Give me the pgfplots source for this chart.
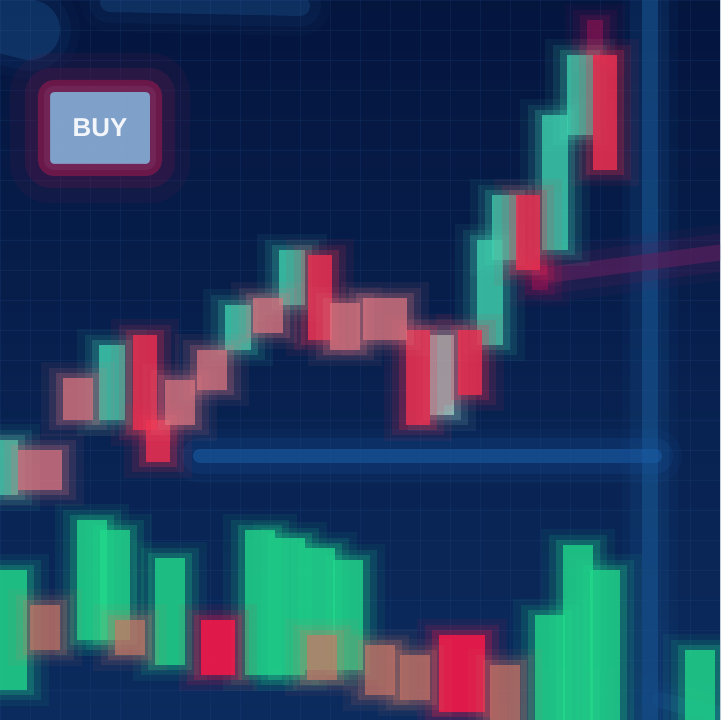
\documentclass[border=0pt]{standalone}
\usepackage{pgfplots}
\pgfplotsset{compat=1.18}
\usepackage{pgfplotstable}
\usepackage{fontspec}
\setmainfont{Liberation Sans}

\definecolor{bgtop}{HTML}{04153E}
\definecolor{bgbot}{HTML}{0B2B5E}
\definecolor{gridc}{HTML}{2A5596}
\definecolor{teal}{HTML}{3FD0AE}
\definecolor{paleteal}{HTML}{A6DCCF}
\definecolor{cred}{HTML}{EE2F50}
\definecolor{salmon}{HTML}{DC7680}
\definecolor{magen}{HTML}{8E1252}
\definecolor{vgreen}{HTML}{22D98C}
\definecolor{vred}{HTML}{FF1748}
\definecolor{vsalmon}{HTML}{CC7766}
\definecolor{hblue}{HTML}{1A5CA6}
\definecolor{vblue}{HTML}{17538E}
\definecolor{purp}{HTML}{5E1F5E}
\definecolor{glow}{HTML}{2466A6}
\definecolor{boxc}{HTML}{70184A}
\definecolor{boxin}{HTML}{8DB0D8}

% candles, pixel x, centre y and half height (y measured from the bottom)
\pgfplotstableread{
x y e
5 252.5 27.5
112 337.5 37.5
238 392.5 22.5
292 442.5 27.5
490 427.5 52.5
505 492.5 32.5
555 537.5 67.5
580 625 40
}\greencandles
\pgfplotstableread{
x y e
442 345 40
}\palecandles
\pgfplotstableread{
x y e
145 337.5 47.5
158 279 21
320 422.5 42.5
418 342.5 47.5
470 357.5 32.5
528 487.5 37.5
605 607.5 57.5
}\redcandles
\pgfplotstableread{
x y e
78 321 21
180 317.5 22.5
212 350 20
268 404.5 17.5
345 393.5 23.5
}\salmoncandles
\pgfplotstableread{
x y e
40 250 20
385 401 21
}\widesalmon
\pgfplotstableread{
x y e
540 442.5 12.5
595 680 20
}\wicks

% volume bars
\pgfplotstableread{
x y e
12 90 60
92 140 60
115 135 55
170 108.5 53.5
260 117.5 72.5
290 113.5 68.5
320 111 61
348 105 55
550 52.5 52.5
578 87.5 87.5
605 75 75
700 35 35
}\volgreen
\pgfplotstableread{
x y e
218 72.5 27.5
}\volred
\pgfplotstableread{
x y e
462 46.5 38.5
}\volredwide
\pgfplotstableread{
x y e
45 92.5 22.5
130 82.5 17.5
322 62.5 22.5
380 50 25
415 42.5 22.5
505 27.5 27.5
}\volsalmon

% one layer of bars drawn as thick error bars
\newcommand{\barlayer}[5]{% table, colour, width, opacity, extra half height
  \addplot[draw=none, mark=none, forget plot, error bars/.cd, y dir=both, y explicit, error mark=none,
    error bar style={draw=#2, line width=#3, opacity=#4}]
    table[x=x, y=y, y error expr=\thisrow{e}+#5] {#1};
}
% soft bars: glow layers and a core
\newcommand{\softbars}[4]{% table, colour, core width (bp, number), core opacity
  \barlayer{#1}{#2}{#3bp+44bp}{0.07}{16}
  \barlayer{#1}{#2}{#3bp+28bp}{0.12}{10}
  \barlayer{#1}{#2}{#3bp+14bp}{0.22}{5}
  \barlayer{#1}{#2}{#3bp}{#4}{0}
}
\newcommand{\softline}[4]{% colour, width (number), opacity, coordinates
  \addplot[forget plot, draw=#1, line width=#2bp+40bp, opacity=0.08*#3, line cap=round] coordinates {#4};
  \addplot[forget plot, draw=#1, line width=#2bp+22bp, opacity=0.16*#3, line cap=round] coordinates {#4};
  \addplot[forget plot, draw=#1, line width=#2bp, opacity=0.5*#3, line cap=round] coordinates {#4};
}

\begin{document}
\begin{tikzpicture}
\begin{axis}[
  width=720bp, height=720bp, scale only axis,
  xmin=0, xmax=720, ymin=0, ymax=720,
  axis line style={draw=none}, tick style={draw=none},
  xtick distance=30, ytick distance=30,
  xticklabels={}, yticklabels={},
  grid=major, grid style={draw=gridc, line width=0.8bp, opacity=0.16},
  axis background/.style={top color=bgtop, bottom color=bgbot},
]
% background glows
\softline{glow}{60}{0.55}{(-10,700) (30,690)}
\softline{glow}{20}{0.5}{(110,718) (300,714)}
\softline{glow}{16}{0.4}{(660,20) (720,5)}

% guide lines
\softline{vblue}{16}{1.2}{(650,-20) (650,740)}
\softline{hblue}{14}{1.1}{(200,264) (655,264)}
\softline{purp}{16}{1.2}{(548,445) (740,470)}

% volume
\softbars{\volgreen}{vgreen}{30}{0.75}
\softbars{\volred}{vred}{34}{0.8}
\softbars{\volredwide}{vred}{46}{0.8}
\softbars{\volsalmon}{vsalmon}{30}{0.65}

% candles
\softbars{\wicks}{magen}{16}{0.6}
\softbars{\greencandles}{teal}{26}{0.75}
\softbars{\palecandles}{paleteal}{24}{0.7}
\softbars{\redcandles}{cred}{24}{0.8}
\softbars{\salmoncandles}{salmon}{30}{0.7}
\softbars{\widesalmon}{salmon}{44}{0.7}

% label box
\node[draw=boxc, line width=40bp, rounded corners=20bp, opacity=0.12, minimum width=140bp, minimum height=110bp] at (axis cs:100,592) {};
\node[draw=boxc, line width=24bp, rounded corners=14bp, opacity=0.25, minimum width=126bp, minimum height=96bp] at (axis cs:100,592) {};
\node[draw=boxc, fill=boxin, line width=12bp, rounded corners=10bp, minimum width=112bp, minimum height=84bp,
  text=white, font=\bfseries\fontsize{26}{30}\selectfont, opacity=0.9] at (axis cs:100,592) {BUY};
\end{axis}
\pgfresetboundingbox
\path[use as bounding box] (current axis.south west) rectangle (current axis.north east);
\end{tikzpicture}
\end{document}
